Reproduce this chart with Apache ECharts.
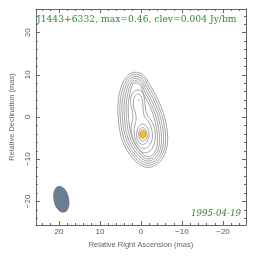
<!DOCTYPE html>
<html>
<head>
<meta charset="utf-8">
<script src="https://cdn.jsdelivr.net/npm/echarts@6/dist/echarts.min.js"></script>
<style>html,body{margin:0;padding:0;background:#fff}#c{width:264px;height:262px}</style>
</head>
<body>
<div id="c"></div>
<script>
// ---- data (mas) ----
const sourceName = "J1443+6332";
const peakFlux = 0.46;      // Jy/beam
const contourBase = 0.004;  // Jy/beam
const epoch = "1995-04-19";
const xTitle = "Relative Right Ascension (mas)";
const yTitle = "Relative Declination (mas)";
const axisRange = [-25.6, 25.6];
const majorTicks = [-20, -10, 0, 10, 20];
const minorTicks = [-24,-22,-18,-16,-14,-12,-8,-6,-4,-2,2,4,6,8,12,14,16,18,22,24];

const corePosition = [-0.47, -4.06];
const jetComponent = [0.6, 4.0];
// beam: [RA, Dec, semi-major, semi-minor, PA deg]
const beam = [19.4, -19.5, 3.2, 1.9, 12];

const contour1 = [[1.7,10.6],[-0.6,9.9],[-2.3,7.4],[-4.2,4.0],[-5.5,0.8],[-6.3,-2.5],[-6.5,-5.5],[-6.0,-8.3],[-4.8,-10.4],[-3.0,-11.7],[-1.2,-11.9],[0.6,-11.1],[2.3,-9.4],[3.9,-7.0],[5.0,-4.0],[5.5,-0.5],[5.6,3.0],[5.0,6.5],[3.7,9.3]];
const contour2 = [[1.7,10.1],[-0.45,9.43],[-1.95,7.05],[-3.78,3.75],[-5.03,0.65],[-5.8,-2.55],[-6.0,-5.45],[-5.58,-8.05],[-4.5,-10.0],[-2.88,-11.22],[-1.25,-11.4],[0.35,-10.67],[1.93,-9.07],[3.46,-6.77],[4.52,-3.88],[5.0,-0.48],[5.1,2.95],[4.55,6.28],[3.4,8.9]];
const contour3 = [[1.7,9.6],[-0.3,8.95],[-1.6,6.7],[-3.35,3.5],[-4.55,0.5],[-5.3,-2.6],[-5.5,-5.4],[-5.15,-7.8],[-4.2,-9.6],[-2.75,-10.73],[-1.3,-10.9],[0.1,-10.23],[1.55,-8.74],[3.02,-6.53],[4.03,-3.75],[4.5,-0.45],[4.6,2.9],[4.1,6.05],[3.1,8.5]];
const contour4 = [[1.7,9.1],[-0.15,8.48],[-1.25,6.35],[-2.93,3.25],[-4.08,0.35],[-4.8,-2.65],[-5.0,-5.35],[-4.73,-7.55],[-3.9,-9.2],[-2.63,-10.25],[-1.35,-10.4],[-0.15,-9.8],[1.18,-8.41],[2.58,-6.3],[3.55,-3.63],[4.0,-0.43],[4.1,2.85],[3.65,5.83],[2.8,8.1]];
const contour5 = [[1.7,8.6],[0.0,8.0],[-0.9,6.0],[-2.5,3.0],[-3.6,0.2],[-4.3,-2.7],[-4.5,-5.3],[-4.3,-7.3],[-3.6,-8.8],[-2.5,-9.76],[-1.4,-9.9],[-0.4,-9.36],[0.8,-8.08],[2.14,-6.06],[3.06,-3.5],[3.5,-0.4],[3.6,2.8],[3.2,5.6],[2.5,7.7]];
const contour6 = [[1.7,8.1],[0.15,7.53],[-0.55,5.65],[-2.08,2.75],[-3.13,0.05],[-3.8,-2.75],[-4.0,-5.25],[-3.88,-7.05],[-3.3,-8.4],[-2.38,-9.27],[-1.45,-9.4],[-0.65,-8.93],[0.43,-7.75],[1.7,-5.83],[2.58,-3.38],[3.0,-0.38],[3.1,2.75],[2.75,5.38],[2.2,7.3]];
const contour7 = [[0.9,6.4],[-0.2,6.0],[-0.8,4.6],[-1.0,3.0],[-1.2,1.4],[-1.7,0.2],[-2.6,-1.0],[-3.3,-2.8],[-3.5,-4.8],[-3.1,-6.7],[-2.2,-8.0],[-1.0,-8.5],[0.2,-8.0],[1.3,-6.6],[2.1,-4.6],[2.4,-2.4],[2.0,-0.4],[2.1,1.5],[2.5,3.2],[2.4,4.9],[1.8,5.9]];
const contour8 = [[0.8,5.4],[0.0,5.0],[-0.4,3.8],[-0.5,2.4],[-0.6,1.0],[-1.0,-0.1],[-1.9,-1.2],[-2.6,-2.9],[-2.8,-4.6],[-2.4,-6.2],[-1.6,-7.2],[-0.6,-7.5],[0.4,-7.0],[1.2,-5.8],[1.6,-4.1],[1.6,-2.3],[1.2,-0.8],[1.3,0.8],[1.8,2.4],[1.8,4.0],[1.4,5.0]];
const contour9 = [[-0.3,-1.7],[-1.2,-2.1],[-1.8,-3.0],[-2.0,-4.2],[-1.7,-5.4],[-1.0,-6.3],[-0.2,-6.5],[0.5,-6.0],[1.0,-5.0],[1.0,-3.7],[0.7,-2.5]];
const contour10 = [[-0.35,-2.5],[-1.0,-2.9],[-1.45,-3.8],[-1.45,-4.8],[-1.0,-5.5],[-0.4,-5.7],[0.2,-5.3],[0.5,-4.5],[0.5,-3.5],[0.2,-2.8]];
const contour11 = [[-0.4,-3.05],[-0.9,-3.4],[-1.1,-4.1],[-0.9,-4.8],[-0.45,-5.1],[0.0,-4.8],[0.15,-4.1],[0.0,-3.4]];

const contours = [contour1,contour2,contour3,contour4,contour5,contour6,contour7,contour8,contour9,contour10,contour11];

// ---- chart ----
const chart = echarts.init(document.getElementById('c'), null, {renderer:'canvas'});
const AXC = '#666';
const fmt = v => v < 0 ? '\u2212' + Math.abs(v) : String(v);
const labelFont = {fontFamily:'Liberation Sans', fontSize:8, color:'#555'};

function mkAxis(pos, isX, major, withLabel, name) {
  const a = {
    type:'value', min:axisRange[0], max:axisRange[1], position:pos,
    inverse: isX, splitLine:{show:false},
    axisLine:{show:major, onZero:false, lineStyle:{color:AXC, width:1}},
    axisTick:{show:true, inside:true, length: major ? 4 : 2, customValues: major ? majorTicks : minorTicks, lineStyle:{color:AXC, width:1}},
    axisLabel:{show:withLabel, customValues: majorTicks, formatter: fmt, margin: isX ? 3 : 4, rotate: isX ? 0 : 90, ...labelFont},
    minorTick:{show:false}
  };
  if (name) {
    a.name = name; a.nameLocation = 'middle';
    a.nameTextStyle = {fontFamily:'Liberation Sans', fontSize:7.5, color:'#666'};
    a.nameGap = isX ? 16 : 13;
  }
  return a;
}

const option = {
  animation:false,
  backgroundColor:'#fff',
  grid:{left:31, right:18, top:9, bottom:37, containLabel:false},
  xAxis:[mkAxis('bottom',true,true,true,xTitle), mkAxis('bottom',true,false,false), mkAxis('top',true,true,false), mkAxis('top',true,false,false)],
  yAxis:[mkAxis('left',false,true,true,yTitle), mkAxis('left',false,false,false), mkAxis('right',false,true,false), mkAxis('right',false,false,false)],
  graphic:[
    {type:'text', left:37, top:15, style:{text: sourceName + ', max=' + peakFlux + ', clev=' + contourBase + ' Jy/bm', font:'9.2px "DejaVu Serif"', fill:'#338833'}},
    {type:'text', right:23, top:209, style:{text: epoch, font:'italic 8.7px "DejaVu Serif"', fill:'#338833'}}
  ],
  series:[
    {
      type:'custom', xAxisIndex:0, yAxisIndex:0, silent:true, z:2,
      data: contours.map((c,i)=>[c[0][0], c[0][1], i]),
      renderItem:(params, api)=>{
        const pts = contours[api.value(2)].map(p=>api.coord(p));
        return {type:'polygon', shape:{points:pts, smooth:0.4}, style:{fill:null, stroke:'#8c8c8c', lineWidth:0.8}};
      }
    },
    {
      type:'custom', xAxisIndex:0, yAxisIndex:0, silent:true, z:2,
      data:[beam],
      renderItem:(params, api)=>{
        const c = api.coord([api.value(0), api.value(1)]);
        const s = api.size([1,1]);
        return {type:'ellipse', x:c[0], y:c[1], rotation: api.value(4)*Math.PI/180,
          shape:{cx:0, cy:0, rx:api.value(3)*s[0], ry:api.value(2)*s[1]},
          style:{fill:'#6b7d90', stroke:null}};
      }
    },
    {type:'scatter', xAxisIndex:0, yAxisIndex:0, data:[corePosition], symbol:'circle', symbolSize:7.5, itemStyle:{color:'#ffa500'}, z:5, silent:true},
    {type:'scatter', xAxisIndex:0, yAxisIndex:0, data:[jetComponent], symbol:'circle', symbolSize:2, itemStyle:{color:'#8fd8ff'}, z:5, silent:true}
  ]
};
chart.setOption(option);
</script>
</body>
</html>
